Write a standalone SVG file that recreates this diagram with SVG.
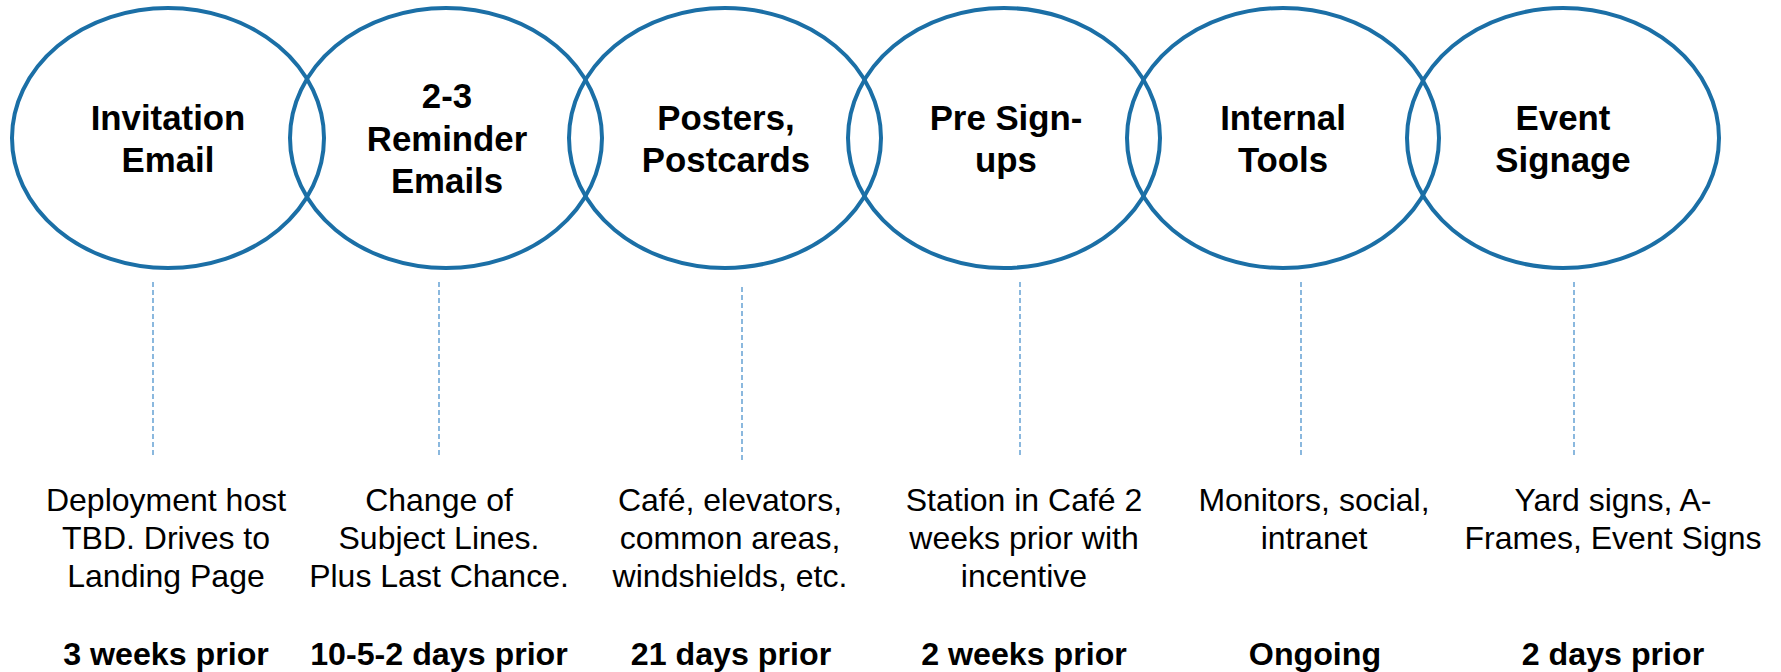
<svg xmlns="http://www.w3.org/2000/svg" width="1781" height="672" viewBox="0 0 1781 672">
<style>
.node ellipse{fill:none;stroke:#1b6fa6;stroke-width:4}
.title{font-family:"Liberation Sans",Arial,sans-serif;font-weight:bold;font-size:34.8px;fill:#000;text-anchor:middle}
.desc{font-family:"Liberation Sans",Arial,sans-serif;font-size:32px;fill:#000;text-anchor:middle}
.when{font-family:"Liberation Sans",Arial,sans-serif;font-weight:bold;font-size:32.2px;fill:#000;text-anchor:middle}
.conn line{stroke:#5a9bd0;stroke-width:1.4;stroke-dasharray:5 3}
</style>
<rect width="1781" height="672" fill="#fff"/>
<g id="connectors" class="conn">
<line x1="153" y1="282" x2="153" y2="457"/>
<line x1="439" y1="282" x2="439" y2="457"/>
<line x1="742" y1="287" x2="742" y2="462"/>
<line x1="1020" y1="282" x2="1020" y2="457"/>
<line x1="1301" y1="282" x2="1301" y2="457"/>
<line x1="1574" y1="282" x2="1574" y2="457"/>
</g>
<g id="node-invitation" class="node">
<ellipse cx="168" cy="138" rx="156" ry="130"/>
<text class="title" x="168" y="130">Invitation</text>
<text class="title" x="168" y="172">Email</text>
<text class="desc" x="166" y="511">Deployment host</text>
<text class="desc" x="166" y="549">TBD. Drives to</text>
<text class="desc" x="166" y="587">Landing Page</text>
<text class="when" x="166" y="665">3 weeks prior</text>
</g>
<g id="node-reminder" class="node">
<ellipse cx="446" cy="138" rx="156" ry="130"/>
<text class="title" x="447" y="108">2-3</text>
<text class="title" x="447" y="151">Reminder</text>
<text class="title" x="447" y="193">Emails</text>
<text class="desc" x="439" y="511">Change of</text>
<text class="desc" x="439" y="549">Subject Lines.</text>
<text class="desc" x="439" y="587">Plus Last Chance.</text>
<text class="when" x="439" y="665">10-5-2 days prior</text>
</g>
<g id="node-posters" class="node">
<ellipse cx="725" cy="138" rx="156" ry="130"/>
<text class="title" x="726" y="130">Posters,</text>
<text class="title" x="726" y="172">Postcards</text>
<text class="desc" x="730" y="511">Café, elevators,</text>
<text class="desc" x="730" y="549">common areas,</text>
<text class="desc" x="730" y="587">windshields, etc.</text>
<text class="when" x="731" y="665">21 days prior</text>
</g>
<g id="node-presignups" class="node">
<ellipse cx="1004" cy="138" rx="156" ry="130"/>
<text class="title" x="1006" y="130">Pre Sign-</text>
<text class="title" x="1006" y="172">ups</text>
<text class="desc" x="1024" y="511">Station in Café 2</text>
<text class="desc" x="1024" y="549">weeks prior with</text>
<text class="desc" x="1024" y="587">incentive</text>
<text class="when" x="1024" y="665">2 weeks prior</text>
</g>
<g id="node-internal" class="node">
<ellipse cx="1283" cy="138" rx="156" ry="130"/>
<text class="title" x="1283" y="130">Internal</text>
<text class="title" x="1283" y="172">Tools</text>
<text class="desc" x="1314" y="511">Monitors, social,</text>
<text class="desc" x="1314" y="549">intranet</text>
<text class="when" x="1315" y="665">Ongoing</text>
</g>
<g id="node-signage" class="node">
<ellipse cx="1563" cy="138" rx="156" ry="130"/>
<text class="title" x="1563" y="130">Event</text>
<text class="title" x="1563" y="172">Signage</text>
<text class="desc" x="1613" y="511">Yard signs, A-</text>
<text class="desc" x="1613" y="549">Frames, Event Signs</text>
<text class="when" x="1613" y="665">2 days prior</text>
</g>
</svg>
